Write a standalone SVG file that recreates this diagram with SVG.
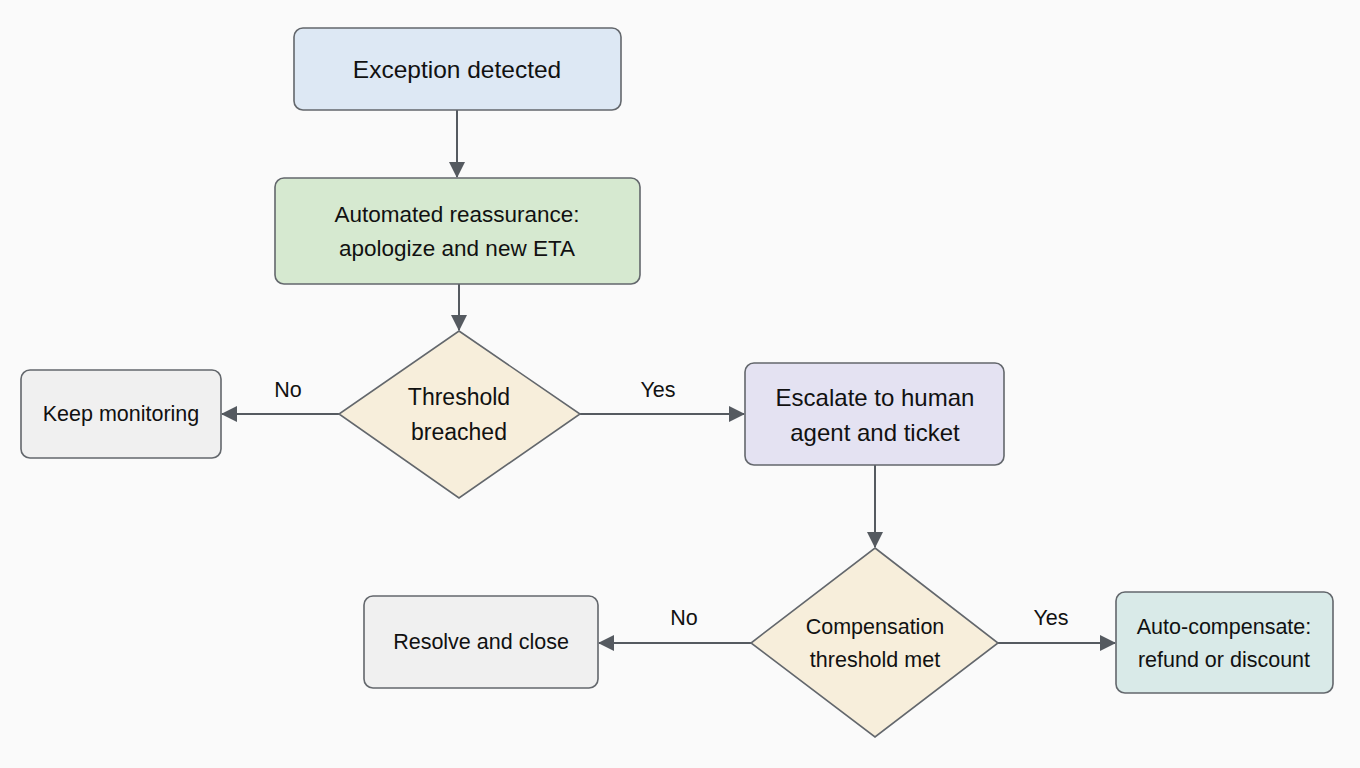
<svg xmlns="http://www.w3.org/2000/svg" width="1360" height="768" viewBox="0 0 1360 768">
<defs>
<marker id="ah" markerWidth="16" markerHeight="16" refX="15" refY="8" orient="auto" markerUnits="userSpaceOnUse" viewBox="0 0 16 16">
<path d="M0,0 L16,8 L0,16 Z" fill="#555a60"/>
</marker>
<style>
.n{stroke:#63676c;stroke-width:1.6}
.t{font-family:"Liberation Sans",Arial,sans-serif;font-size:23px;fill:#111;text-anchor:middle;dominant-baseline:central}
.s{font-size:21.5px}
.c{stroke:#555a60;stroke-width:2;fill:none;marker-end:url(#ah)}
</style>
</defs>
<rect width="1360" height="768" fill="#fafafa"/>
<g id="connectors">
<line class="c" x1="457" y1="110" x2="457" y2="177"/>
<line class="c" x1="459" y1="284" x2="459" y2="330"/>
<line class="c" x1="339" y1="414" x2="222" y2="414"/>
<line class="c" x1="580" y1="414" x2="744" y2="414"/>
<line class="c" x1="875" y1="465" x2="875" y2="547"/>
<line class="c" x1="751" y1="643" x2="599" y2="643"/>
<line class="c" x1="998" y1="643" x2="1115" y2="643"/>
<text class="t s" x="288" y="390">No</text>
<text class="t s" x="658" y="390">Yes</text>
<text class="t s" x="684" y="618">No</text>
<text class="t s" x="1051" y="618">Yes</text>
</g>
<g id="exception">
<rect class="n" x="294" y="28" width="327" height="82" rx="9" fill="#dde8f4"/>
<text class="t" x="457" y="69" style="font-size:24.5px">Exception detected</text>
</g>
<g id="reassurance">
<rect class="n" x="275" y="178" width="365" height="106" rx="9" fill="#d6e9d0"/>
<text class="t" x="457" y="214" style="font-size:22.5px">Automated reassurance:</text>
<text class="t" x="457" y="248" style="font-size:22.5px">apologize and new ETA</text>
</g>
<g id="threshold">
<polygon class="n" points="459,331 580,414 459,498 339,414" fill="#f7eedb"/>
<text class="t" x="459" y="397">Threshold</text>
<text class="t" x="459" y="432">breached</text>
</g>
<g id="monitoring">
<rect class="n" x="21" y="370" width="200" height="88" rx="9" fill="#f0f0f0"/>
<text class="t s" x="121" y="414">Keep monitoring</text>
</g>
<g id="escalate">
<rect class="n" x="745" y="363" width="259" height="102" rx="9" fill="#e4e2f2"/>
<text class="t" x="875" y="397" style="font-size:24px">Escalate to human</text>
<text class="t" x="875" y="432" style="font-size:24px">agent and ticket</text>
</g>
<g id="compensation">
<polygon class="n" points="875,548 998,643 875,737 751,643" fill="#f7eedb"/>
<text class="t s" x="875" y="627">Compensation</text>
<text class="t s" x="875" y="660">threshold met</text>
</g>
<g id="resolve">
<rect class="n" x="364" y="596" width="234" height="92" rx="9" fill="#f0f0f0"/>
<text class="t s" x="481" y="642">Resolve and close</text>
</g>
<g id="autocomp">
<rect class="n" x="1116" y="592" width="217" height="101" rx="9" fill="#d9eae8"/>
<text class="t s" x="1224" y="627">Auto-compensate:</text>
<text class="t s" x="1224" y="660">refund or discount</text>
</g>
</svg>
